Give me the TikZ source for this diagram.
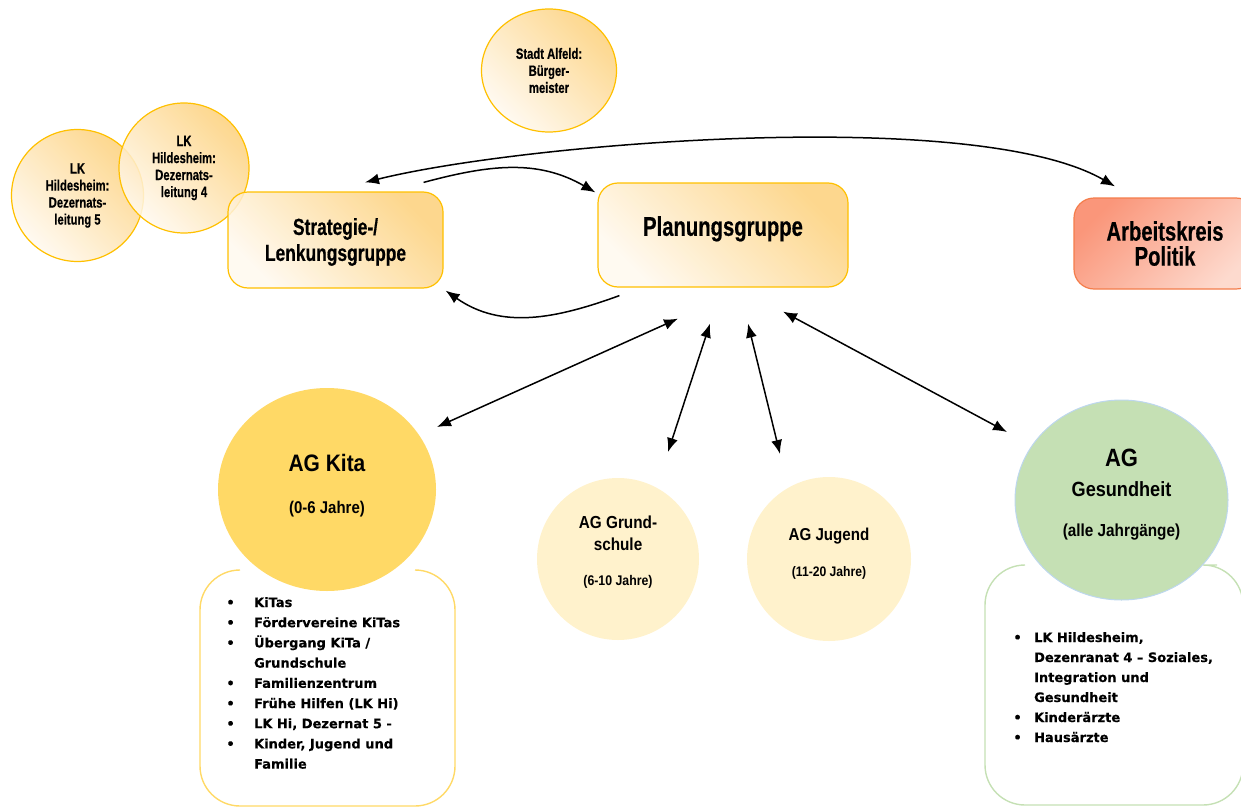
\documentclass[tikz,border=0pt]{standalone}
\usepackage{fontspec}
\setmainfont{Liberation Sans}
\newfontfamily\headfont[FakeStretch=0.75,FakeBold=0.5]{Liberation Sans}
\newfontfamily\agfont[FakeStretch=0.88]{Liberation Sans}
\newfontfamily\listfont[FakeBold=0.3]{DejaVu Sans}
\usetikzlibrary{arrows.meta,shapes.geometric}
\definecolor{goldDark}{HTML}{FDD07A}
\definecolor{goldLight}{HTML}{FFF9EF}
\definecolor{goldLine}{HTML}{FFC000}
\definecolor{akDark}{HTML}{FA967A}
\definecolor{akLight}{HTML}{FDDACE}
\definecolor{akLine}{HTML}{F47D4B}
\definecolor{kitaFill}{HTML}{FFD966}
\definecolor{schoolFill}{HTML}{FFF2CC}
\definecolor{gesFill}{HTML}{C5E0B4}
\definecolor{gesLine}{HTML}{BDD7EE}
\definecolor{gesBox}{HTML}{C5E0B4}

\begin{document}
\begin{tikzpicture}[x=0.5pt,y=0.5pt,
  gold/.style={draw=goldLine, line width=0.6pt, fill opacity=0.85, text opacity=1,
    top color=goldDark, bottom color=goldLight, shading angle=-45},
  person/.style={gold, circle, minimum size=#1, inner sep=0pt, align=center,
    font=\headfont\bfseries\fontsize{7.5}{8.5}\selectfont},
  group/.style={gold, rectangle, rounded corners=10pt, align=center},
  agcircle/.style={ellipse, inner sep=0pt, align=center},
  listtext/.style={anchor=base west, inner sep=0pt,
    font=\listfont\bfseries\fontsize{6.5}{#1}\selectfont},
  link/.style={line width=0.75pt, >={Latex[length=7pt,width=5.5pt]}}]
\useasboundingbox (0,0) rectangle (1241,-808);

\node[person=66pt] (lk5) at (77.5,-195.5) {LK\\Hildesheim:\\Dezernats-\\leitung 5};
\node[person=65pt] (lk4) at (184,-168) {LK\\Hildesheim:\\Dezernats-\\leitung 4};
\node[gold, ellipse, minimum width=67.5pt, minimum height=61.5pt, inner sep=0pt, align=center,
  font=\headfont\bfseries\fontsize{7.5}{8.5}\selectfont] (stadt) at (549,-70.5)
  {Stadt Alfeld:\\Bürger-\\meister};

\node[group, minimum width=107.5pt, minimum height=48pt, text depth=0.5pt,
  font=\headfont\bfseries\fontsize{11.6}{13}\selectfont] (strat) at (335.5,-240)
  {Strategie-/\\Lenkungsgruppe};
\node[group, minimum width=125pt, minimum height=52pt, text depth=9pt,
  font=\headfont\bfseries\fontsize{13.5}{15}\selectfont] (plan) at (723,-235)
  {Planungsgruppe};
\node[rectangle, rounded corners=10pt, draw=akLine, line width=0.6pt,
  top color=akDark, bottom color=akLight, shading angle=45,
  minimum width=91pt, minimum height=45.5pt, align=center,
  font=\headfont\bfseries\fontsize{13.5}{12.5}\selectfont] (ak) at (1165,-243.5)
  {Arbeitskreis\\Politik};

\draw[kitaFill, line width=0.7pt, rounded corners=20pt]
  (240,-570) -- (200,-570) -- (200,-806) -- (455,-806) -- (455,-570) -- (415,-570);
\draw[gesBox, line width=0.7pt, rounded corners=20pt]
  (1025,-565) -- (985,-565) -- (985,-805) -- (1243,-805) -- (1243,-565) -- (1217,-565);

\node[agcircle, fill=kitaFill, minimum width=109pt, minimum height=101.5pt, text depth=6pt,
  font=\agfont\bfseries\fontsize{8.5}{14}\selectfont] (kita) at (327,-489.5)
  {{\fontsize{11.9}{14}\selectfont AG Kita}\\[7pt](0-6 Jahre)};
\node[agcircle, fill=schoolFill, minimum size=81pt, text depth=8pt,
  font=\agfont\bfseries\fontsize{8.7}{11}\selectfont] (grund) at (618,-559)
  {AG Grund-\\schule\\[6.5pt]{\fontsize{7}{8}\selectfont(6-10 Jahre)}};
\node[agcircle, fill=schoolFill, minimum size=82pt, text depth=7pt,
  font=\agfont\bfseries\fontsize{8.6}{11}\selectfont] (jugend) at (829,-559)
  {AG Jugend\\[7pt]{\fontsize{6.9}{8}\selectfont(11-20 Jahre)}};
\node[agcircle, fill=gesFill, draw=gesLine, line width=0.5pt, minimum width=106.5pt, minimum height=100pt,
  text depth=7pt, font=\agfont\bfseries\fontsize{10.3}{15}\selectfont] (gesund) at (1121.5,-500)
  {{\fontsize{12.5}{15}\selectfont AG}\\Gesundheit\\[5pt]{\fontsize{8.7}{10}\selectfont(alle Jahrgänge)}};

\node[listtext=10.1] (kitalist) at (226,-607) {\begin{tabular}[t]{@{}l@{\hspace{9.7pt}}l@{}}
  \textbullet & KiTas\\
  \textbullet & Fördervereine KiTas\\
  \textbullet & Übergang KiTa /\\
              & Grundschule\\
  \textbullet & Familienzentrum\\
  \textbullet & Frühe Hilfen (LK Hi)\\
  \textbullet & LK Hi, Dezernat 5 -\\
  \textbullet & Kinder, Jugend und\\
              & Familie
\end{tabular}};
\node[listtext=10] (geslist) at (1013,-642) {\begin{tabular}[t]{@{}l@{\hspace{6.2pt}}l@{}}
  \textbullet & LK Hildesheim,\\
              & Dezenranat 4 – Soziales,\\
              & Integration und\\
              & Gesundheit\\
  \textbullet & Kinderärzte\\
  \textbullet & Hausärzte
\end{tabular}};

\draw[link,<->] ([shift={(29.5,9)}]strat.north) to[out=14,in=150,looseness=0.55] ([shift={(-50,11)}]ak.north);
\draw[link,->] ([shift={(-20,9)}]strat.north east) to[out=15,in=150] ([shift={(-2,-10)}]plan.north west);
\draw[link,->] ([shift={(22,-8)}]plan.south west) to[out=200,in=-35] ([shift={(2,-2)}]strat.south east);
\draw[link,<->] ([shift={(-45,-31)}]plan.south) -- ([shift={(110,62.5)}]kita.center);
\draw[link,<->] ([shift={(-13,-36)}]plan.south) -- ([shift={(50,107)}]grund.center);
\draw[link,<->] ([shift={(25,-36)}]plan.south) -- ([shift={(-49,105)}]jugend.center);
\draw[link,<->] ([shift={(60,-24)}]plan.south) -- ([shift={(-114.5,68)}]gesund.center);
\end{tikzpicture}
\end{document}
